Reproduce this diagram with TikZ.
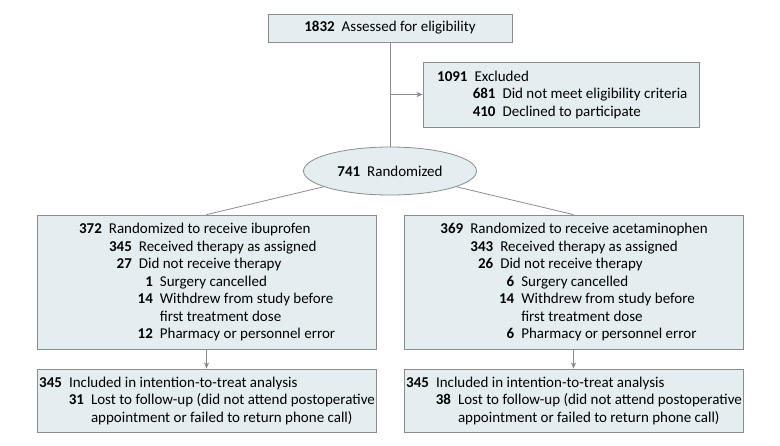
\documentclass[tikz,border=0pt]{standalone}
\usepackage{fontspec}
\setmainfont{Carlito}
\usetikzlibrary{arrows.meta,shapes.geometric}
\definecolor{boxfill}{RGB}{228,238,240}
\definecolor{boxline}{RGB}{140,140,140}
\newcommand\numline[3]{\makebox[#1pt][r]{\textbf{#2}}\hspace{7pt}#3}
\newcommand\contline[2]{\hspace*{#1pt}\hspace*{7pt}#2}
\newcommand\oneline[2]{\textbf{#1}\hspace{7pt}#2}
\begin{document}
\begin{tikzpicture}[x=1pt,y=-1pt,
  box/.style={draw=boxline,fill=boxfill,line width=0.8pt,inner sep=0pt,align=left,
    font=\fontsize{15}{17.5}\selectfont},
  conn/.style={draw=boxline,line width=0.8pt},
  arr/.style={conn,-{Stealth[length=6pt,width=5pt,inset=1.5pt]}}]
\useasboundingbox (0,0) rectangle (780,445);
\node[box,minimum width=244pt,minimum height=28pt] (top) at (390,28)
  {\oneline{1832}{Assessed for eligibility}};
\node[box,minimum width=276pt,minimum height=65pt] (excl) at (561,94.5)
  {\numline{33}{1091}{Excluded}\\
   \numline{61}{681}{Did not meet eligibility criteria}\\
   \numline{61}{410}{Declined to participate}};
\node[box,ellipse,minimum width=173pt,minimum height=48pt] (rand) at (390,171)
  {\oneline{741}{Randomized}};
\node[box,minimum width=339pt,minimum height=134pt] (left) at (206.5,282)
  {\numline{24}{372}{Randomized to receive ibuprofen}\\
   \numline{54}{345}{Received therapy as assigned}\\
   \numline{54}{27}{Did not receive therapy}\\
   \numline{75}{1}{Surgery cancelled}\\
   \numline{75}{14}{Withdrew from study before}\\
   \contline{75}{first treatment dose}\\
   \numline{75}{12}{Pharmacy or personnel error}};
\node[box,minimum width=339pt,minimum height=134pt] (right) at (573.5,282)
  {\numline{24}{369}{Randomized to receive acetaminophen}\\
   \numline{54}{343}{Received therapy as assigned}\\
   \numline{54}{26}{Did not receive therapy}\\
   \numline{75}{6}{Surgery cancelled}\\
   \numline{75}{14}{Withdrew from study before}\\
   \contline{75}{first treatment dose}\\
   \numline{75}{6}{Pharmacy or personnel error}};
\node[box,minimum width=339pt,minimum height=63pt] (leftb) at (206.5,400.5)
  {\numline{24}{345}{Included in intention-to-treat analysis}\\
   \numline{46}{31}{Lost to follow-up (did not attend postoperative}\\
   \contline{46}{appointment or failed to return phone call)}};
\node[box,minimum width=339pt,minimum height=63pt] (rightb) at (573.5,400.5)
  {\numline{24}{345}{Included in intention-to-treat analysis}\\
   \numline{46}{38}{Lost to follow-up (did not attend postoperative}\\
   \contline{46}{appointment or failed to return phone call)}};
\draw[conn] (top.south) -- (rand.north);
\coordinate (j) at (top.south |- excl.west);
\draw[arr] (j) -- (excl.west);
\draw[conn] (rand) -- (left.north);
\draw[conn] (rand) -- (right.north);
\draw[arr] (left.south) -- (leftb.north);
\draw[arr] (right.south) -- (rightb.north);
\end{tikzpicture}
\end{document}
